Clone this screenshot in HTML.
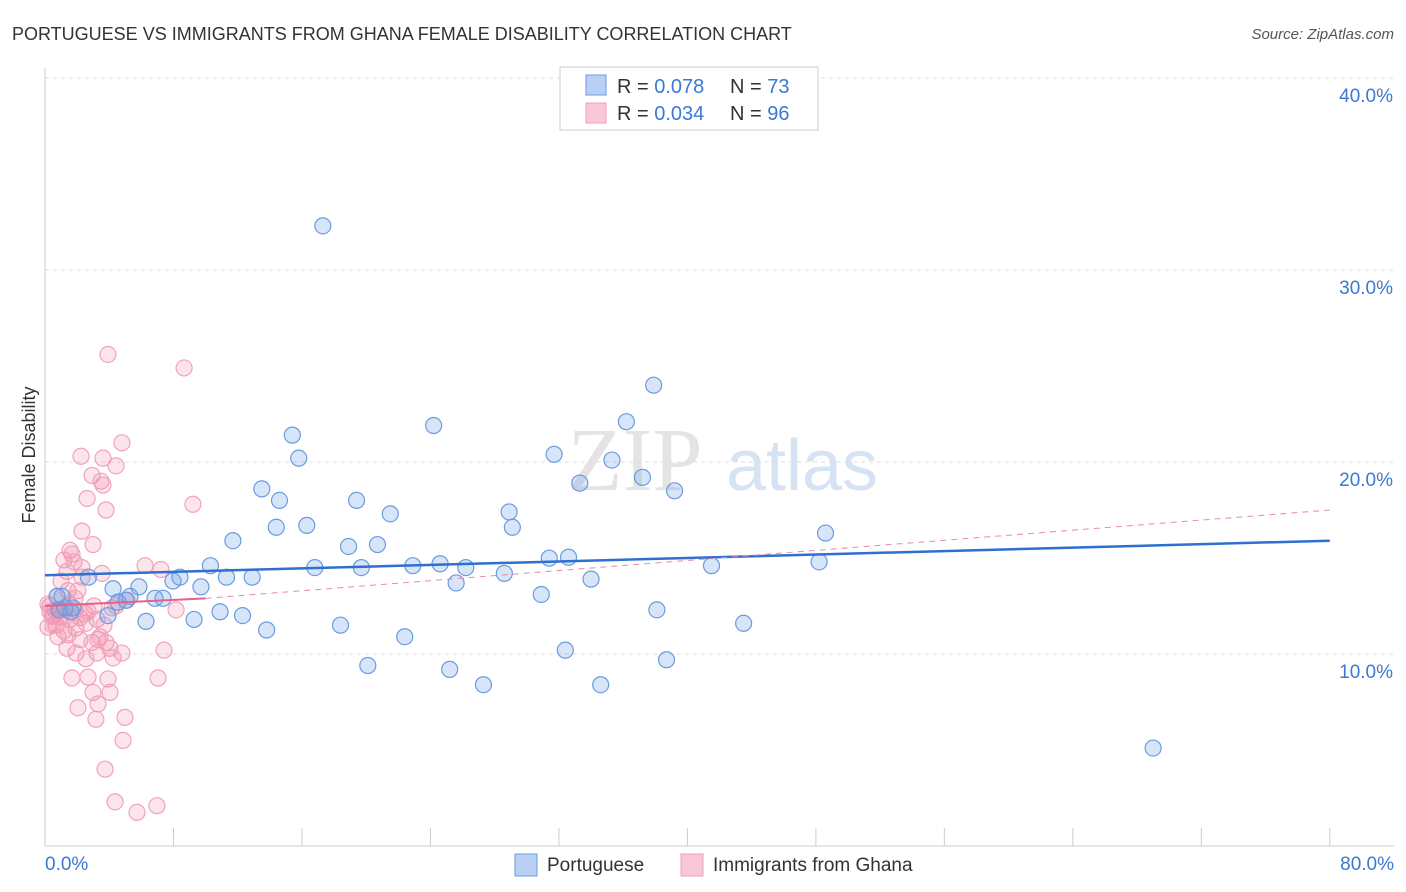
<!DOCTYPE html>
<html><head><meta charset="utf-8">
<style>
body{margin:0;background:#fff;font-family:"Liberation Sans",sans-serif;}
svg{display:block}
</style></head>
<body>
<svg id="chart" width="1406" height="892">
<text x="12" y="40" font-size="18" fill="#333">PORTUGUESE VS IMMIGRANTS FROM GHANA FEMALE DISABILITY CORRELATION CHART</text>
<text x="1394" y="39" font-size="15" fill="#555" font-style="italic" text-anchor="end">Source: ZipAtlas.com</text>
<text x="35" y="455" font-size="18" fill="#333" transform="rotate(-90 35 455)" text-anchor="middle">Female Disability</text>
<g><text x="635" y="490" font-size="90" fill="#e4e4e4" font-family="Liberation Serif,serif" text-anchor="middle">ZIP</text><text x="802" y="490" font-size="72" fill="#d6e3f3" text-anchor="middle">atlas</text></g>
<g id="grid"></g>
<g id="axes"></g>
<g id="marks"></g>
<g>
<rect x="560" y="67" width="258" height="63" fill="#fff" stroke="#ccc"/>
<rect x="586" y="75" width="20" height="20" fill="#b8d0f4" stroke="#6a9be0"/>
<rect x="586" y="103" width="20" height="20" fill="#f9c8d8" stroke="#f0a0b8"/>
<text x="617" y="93" font-size="20" fill="#333">R = <tspan fill="#3a78d4">0.078</tspan></text>
<text x="730" y="93" font-size="20" fill="#333">N = <tspan fill="#3a78d4">73</tspan></text>
<text x="617" y="120" font-size="20" fill="#333">R = <tspan fill="#3a78d4">0.034</tspan></text>
<text x="730" y="120" font-size="20" fill="#333">N = <tspan fill="#3a78d4">96</tspan></text>
</g>
<g>
<rect x="515" y="854" width="22" height="22" fill="#b8d0f4" stroke="#6a9be0"/>
<text x="547" y="871" font-size="19" fill="#333">Portuguese</text>
<rect x="681" y="854" width="22" height="22" fill="#f9c8d8" stroke="#f0a0b8"/>
<text x="713" y="871" font-size="19" fill="#333">Immigrants from Ghana</text>
</g>
</svg>
<script>
const yTicks=[10,20,30,40];
const yTickLabels=["10.0%","20.0%","30.0%","40.0%"];
const xTickLabels=["0.0%","80.0%"];
const blueX=[17.3,37.9,24.2,36.2,15.4,31.7,15.8,35.3,37.2,33.3,39.2,13.5,14.6,19.4,28.9,21.5,14.4,16.3,29.1,48.6,11.7,18.9,20.7,31.4,32.6,10.3,16.8,19.7,22.9,24.6,26.2,41.5,48.2,28.6,2.7,8.4,7.97,11.3,12.9,34.0,25.6,5.85,4.24,9.71,5.04,5.29,6.85,7.35,30.9,1.06,0.87,1.74,3.92,10.9,12.3,9.28,6.29,38.1,18.4,13.8,43.5,22.4,32.4,20.1,25.2,38.7,27.3,34.6,69.0,4.55,1.62,0.75,1.24];
const blueY=[32.3,24.0,21.9,22.1,21.4,20.4,20.2,20.1,19.2,18.9,18.5,18.6,18.0,18.0,17.4,17.3,16.6,16.7,16.6,16.3,15.9,15.6,15.7,14.99,15.04,14.6,14.5,14.5,14.6,14.7,14.5,14.6,14.8,14.2,14.0,14.0,13.8,14.0,14.0,13.9,13.7,13.5,13.4,13.5,12.8,13.0,12.9,12.9,13.1,13.0,12.3,12.4,12.0,12.2,12.0,11.8,11.7,12.3,11.5,11.25,11.6,10.9,10.2,9.4,9.2,9.7,8.4,8.4,5.1,12.7,12.2,13.0,12.4];
const pinkX=[3.92,8.66,4.79,2.24,3.61,4.42,2.93,3.49,3.61,2.62,9.21,3.80,2.30,2.99,1.56,1.68,1.18,1.81,6.23,7.22,2.30,1.37,3.55,0.997,2.30,1.43,0.75,2.05,0.31,0.62,0.934,1.25,1.87,2.49,3.05,0.44,0.934,1.56,2.18,3.24,4.17,4.42,5.11,8.16,0.187,0.685,1.18,1.93,2.55,3.67,0.81,1.43,2.18,2.93,3.30,3.42,3.80,4.05,1.37,1.93,3.24,4.79,7.41,4.24,2.55,2.68,1.68,3.92,7.04,2.99,4.05,3.30,2.05,3.17,4.98,4.86,3.74,4.36,6.97,5.73,0.56,1.06,0.498,0.31,1.49,2.68,1.87,0.187];
const pinkY=[25.6,24.9,21.0,20.3,20.2,19.8,19.3,19.0,18.8,18.1,17.8,17.5,16.4,15.7,15.4,15.2,14.9,14.8,14.6,14.4,14.5,14.3,14.2,13.8,14.0,13.3,13.0,13.3,12.5,12.3,12.3,12.3,12.3,12.1,12.5,11.97,11.93,11.8,11.9,11.8,12.4,12.5,12.8,12.3,11.4,11.5,11.2,11.35,11.6,11.5,10.9,11.0,10.75,10.6,10.75,10.9,10.6,10.3,10.3,10.05,10.05,10.05,10.2,9.8,9.75,8.8,8.75,8.7,8.75,8.0,8.0,7.4,7.2,6.6,6.7,5.5,4.0,2.3,2.1,1.75,12.0,11.9,11.5,12.2,12.6,12.2,12.9,12.6];
const blueTrend=[0,14.1,80,15.9];
const pinkTrend=[0,12.5,10,12.9,80,17.5];
const X=v=>45+v*16.06, Y=v=>846-v*19.2;
const NS="http://www.w3.org/2000/svg";
function mk(parent,tag,attrs){const e=document.createElementNS(NS,tag);for(const k in attrs)e.setAttribute(k,attrs[k]);parent.appendChild(e);return e;}
const grid=document.getElementById('grid'),axes=document.getElementById('axes'),marks=document.getElementById('marks');
yTicks.forEach((t,i)=>{
 const l=mk(grid,'line',{x1:45,x2:1394,y1:Y(t),y2:Y(t),stroke:'#ddd','stroke-dasharray':'4,4'});
 
 
 const tx=mk(axes,'text',{x:1393,y:Y(t)+24,'font-size':19,fill:'#3a78d4','text-anchor':'end'});tx.textContent=yTickLabels[i];
 
 
});
mk(axes,'line',{x1:45,x2:45,y1:68,y2:846,stroke:'#ccc'});
mk(axes,'line',{x1:45,x2:1394,y1:846,y2:846,stroke:'#ccc'});
for(let i=0;i<=10;i++){const t=mk(axes,'line',{x1:X(i*8),x2:X(i*8),y1:828,y2:846,stroke:'#ccc'});
 
 }
[[0,'start',45],[80,'end',1394]].forEach((a,i)=>{const tx=mk(axes,'text',{x:a[2],y:870,'font-size':19,fill:'#3a78d4','text-anchor':a[1]});tx.textContent=xTickLabels[i];
 
 });
pinkX.forEach((v,i)=>{const c=mk(marks,'circle',{cx:X(v),cy:Y(pinkY[i]),r:8,fill:'rgba(240,130,165,0.22)',stroke:'#f2a2bb','stroke-width':1.2});
 
 });
blueX.forEach((v,i)=>{const c=mk(marks,'circle',{cx:X(v),cy:Y(blueY[i]),r:8,fill:'rgba(110,160,230,0.28)',stroke:'#6a9be0','stroke-width':1.2});
 
 });
const bt=mk(marks,'line',{x1:X(blueTrend[0]),y1:Y(blueTrend[1]),x2:X(blueTrend[2]),y2:Y(blueTrend[3]),stroke:'#2f6fd0','stroke-width':2.5});


const pd=mk(marks,'line',{x1:X(pinkTrend[2]),y1:Y(pinkTrend[3]),x2:X(pinkTrend[4]),y2:Y(pinkTrend[5]),stroke:'#e88aa8','stroke-width':1,'stroke-dasharray':'6,5'});


const ps=mk(marks,'line',{x1:X(pinkTrend[0]),y1:Y(pinkTrend[1]),x2:X(pinkTrend[2]),y2:Y(pinkTrend[3]),stroke:'#e8608a','stroke-width':2});


</script>
</body></html>
